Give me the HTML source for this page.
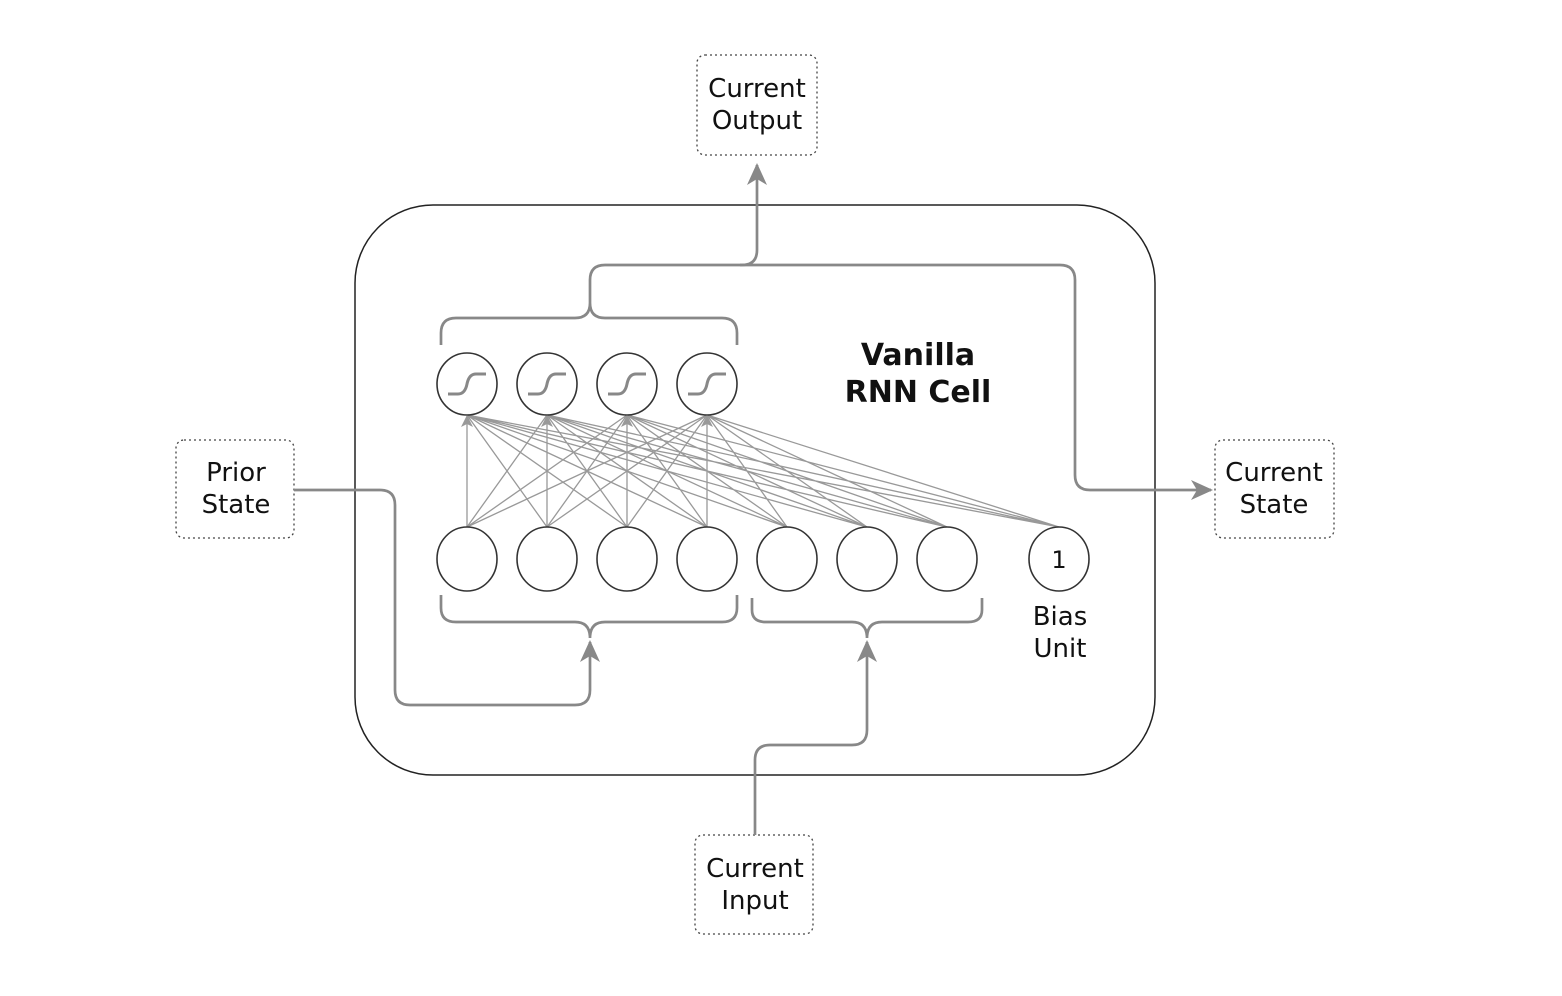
<!DOCTYPE html>
<html><head><meta charset="utf-8"><style>
html,body{margin:0;padding:0;background:#fff;}
svg{display:block;}
text{font-family:"DejaVu Sans","Liberation Sans",sans-serif;fill:#111;}
</style></head><body>
<svg width="1562" height="996" viewBox="0 0 1562 996" xmlns="http://www.w3.org/2000/svg">
<defs>
<marker id="ab" markerWidth="24" markerHeight="24" refX="20" refY="12" orient="auto" markerUnits="userSpaceOnUse">
<path d="M0,2 L22,12 L0,22 L6,12 Z" fill="#888"/>
</marker>
</defs>
<rect x="355" y="205" width="800" height="570" rx="78" ry="78" fill="none" stroke="#222" stroke-width="1.5"/>
<g fill="none" stroke="#444" stroke-width="1.3" stroke-dasharray="2,3">
<rect x="697" y="55" width="120" height="100" rx="8"/>
<rect x="176" y="440" width="118" height="98" rx="8"/>
<rect x="1215" y="440" width="119" height="98" rx="8"/>
<rect x="695" y="835" width="118" height="99" rx="8"/>
</g>
<g font-size="26" text-anchor="middle">
<text x="757" y="97">Current</text><text x="757" y="129">Output</text>
<text x="236" y="481">Prior</text><text x="236" y="513">State</text>
<text x="1274" y="481">Current</text><text x="1274" y="513">State</text>
<text x="755" y="877">Current</text><text x="755" y="909">Input</text>
<text x="1060" y="625">Bias</text><text x="1060" y="657">Unit</text>
</g>
<g font-size="30" font-weight="bold" text-anchor="middle">
<text x="918" y="365">Vanilla</text><text x="918" y="402">RNN Cell</text>
</g>
<g stroke="#999" stroke-width="1.3" fill="none">
<path d="M467,527L467,415M467,527L547,415M467,527L627,415M467,527L707,415M547,527L467,415M547,527L547,415M547,527L627,415M547,527L707,415M627,527L467,415M627,527L547,415M627,527L627,415M627,527L707,415M707,527L467,415M707,527L547,415M707,527L627,415M707,527L707,415M787,527L467,415M787,527L547,415M787,527L627,415M787,527L707,415M867,527L467,415M867,527L547,415M867,527L627,415M867,527L707,415M947,527L467,415M947,527L547,415M947,527L627,415M947,527L707,415M1059,527L467,415M1059,527L547,415M1059,527L627,415M1059,527L707,415"/>
</g>
<g fill="none" stroke="#888" stroke-width="2.7">
<path d="M441,345 V333 Q441,318 456,318 H575 Q590,318 590,303 Q590,318 605,318 H722 Q737,318 737,333 V345"/>
<path d="M441,595 V608 Q441,622 456,622 H575 Q590,622 590,638 Q590,622 605,622 H722 Q737,622 737,608 V595"/>
<path d="M752,598 V610 Q752,622 766,622 H852 Q867,622 867,638 Q867,622 882,622 H968 Q982,622 982,610 V598"/>
<path d="M590,303 V280 Q590,265 605,265 H742 Q757,265 757,250 V165" marker-end="url(#ab)"/>
<path d="M740,265 H1060 Q1075,265 1075,280 V475 Q1075,490 1090,490 H1211" marker-end="url(#ab)"/>
<path d="M294,490 H380 Q395,490 395,505 V690 Q395,705 410,705 H575 Q590,705 590,690 V642" marker-end="url(#ab)"/>
<path d="M755,835 V760 Q755,745 770,745 H852 Q867,745 867,730 V642" marker-end="url(#ab)"/>
</g>
<g fill="#fff" stroke="#333" stroke-width="1.6">
<ellipse cx="467" cy="384" rx="30" ry="31"/><ellipse cx="547" cy="384" rx="30" ry="31"/>
<ellipse cx="627" cy="384" rx="30" ry="31"/><ellipse cx="707" cy="384" rx="30" ry="31"/>
<ellipse cx="467" cy="559" rx="30" ry="32"/><ellipse cx="547" cy="559" rx="30" ry="32"/>
<ellipse cx="627" cy="559" rx="30" ry="32"/><ellipse cx="707" cy="559" rx="30" ry="32"/>
<ellipse cx="787" cy="559" rx="30" ry="32"/><ellipse cx="867" cy="559" rx="30" ry="32"/>
<ellipse cx="947" cy="559" rx="30" ry="32"/><ellipse cx="1059" cy="559" rx="30" ry="32"/>
</g>
<text x="1059" y="568" font-size="24" text-anchor="middle">1</text>
<g fill="none" stroke="#888" stroke-width="3">
<path d="M448,394 H458 Q465,394 467,384 Q469,374 476,374 H486"/>
<path d="M528,394 H538 Q545,394 547,384 Q549,374 556,374 H566"/>
<path d="M608,394 H618 Q625,394 627,384 Q629,374 636,374 H646"/>
<path d="M688,394 H698 Q705,394 707,384 Q709,374 716,374 H726"/>
</g>
<g fill="#999">
<path d="M467,415 l-6,12 l6,-3 l6,3Z"/><path d="M547,415 l-6,12 l6,-3 l6,3Z"/>
<path d="M627,415 l-6,12 l6,-3 l6,3Z"/><path d="M707,415 l-6,12 l6,-3 l6,3Z"/>
</g>
</svg>
</body></html>
